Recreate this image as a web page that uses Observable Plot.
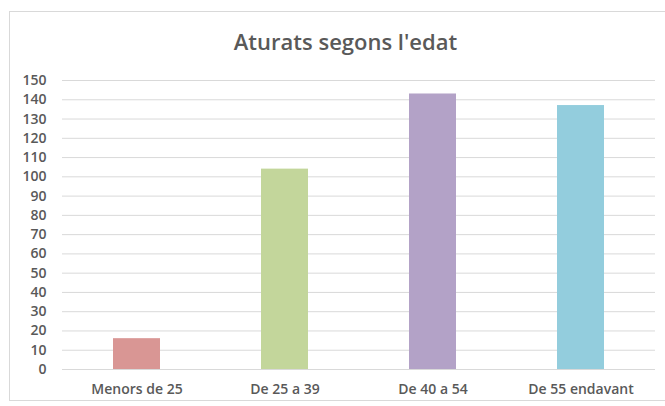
<!DOCTYPE html>
<html>
<head>
<meta charset="utf-8">
<script src="https://cdn.jsdelivr.net/npm/d3@7"></script>
<script src="https://cdn.jsdelivr.net/npm/@observablehq/plot@0.6"></script>
<style>
  html, body { margin: 0; padding: 0; background: #fff; overflow: hidden; }
  #wrap { position: relative; width: 665px; height: 406px; overflow: hidden; }
  #frame { position: absolute; left: 9px; top: 11px; width: 700px; height: 390px; border: 1px solid #d9d9d9; box-sizing: border-box; }
  #title { position: absolute; left: 0; width: 691px; top: 28px; text-align: center; font-family: "Open Sans", sans-serif; font-weight: 600; font-size: 22px; line-height: 26px; color: #595959; }
  #chart { position: absolute; left: 0; top: 0; }
</style>
</head>
<body>
<div id="wrap">
  <div id="frame"></div>
  <div id="chart"></div>
  <div id="title">Aturats segons l'edat</div>
</div>
<script>
const categories = ["Menors de 25", "De 25 a 39", "De 40 a 54", "De 55 endavant"];
const values = [16, 104, 143, 137];
const colors = ["#d99694", "#c3d69b", "#b3a2c7", "#93cddd"];
const yTicks = [0, 10, 20, 30, 40, 50, 60, 70, 80, 90, 100, 110, 120, 130, 140, 150];

const data = categories.map((c, i) => ({category: c, value: values[i]}));

const chart = Plot.plot({
  width: 665,
  height: 406,
  marginTop: 80,
  marginBottom: 37,
  marginLeft: 62,
  marginRight: 10,
  style: {fontFamily: "'Open Sans', sans-serif", fontSize: "14px", fontWeight: 600, color: "#595959", background: "transparent"},
  x: {domain: categories, paddingInner: 0.68, paddingOuter: 0.34, label: null},
  y: {domain: [0, 150], label: null},
  color: {domain: categories, range: colors},
  marks: [
    Plot.gridY(yTicks, {stroke: "#d9d9d9", strokeOpacity: 1, strokeWidth: 1}),
    Plot.barY(data, {x: "category", y: "value", fill: "category"}),
    Plot.axisX({tickSize: 0, tickPadding: 15, label: null}),
    Plot.axisY(yTicks, {tickSize: 0, tickPadding: 16, label: null})
  ]
});
document.getElementById("chart").appendChild(chart);
</script>
</body>
</html>
